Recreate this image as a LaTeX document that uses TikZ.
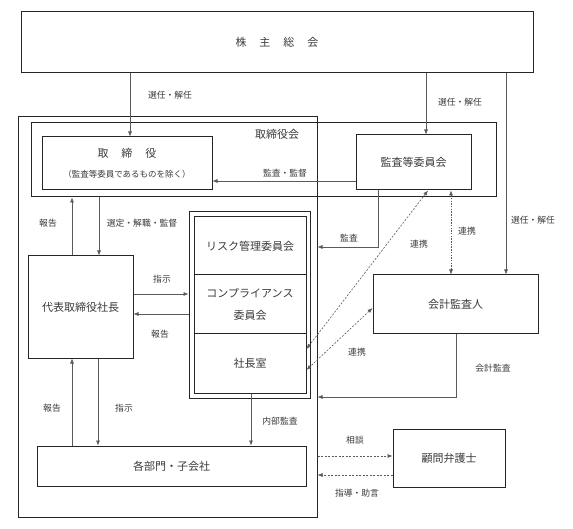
\documentclass[tikz,border=0pt]{standalone}
\usepackage{fontspec}
\setmainfont{Noto Sans CJK JP}
\usepackage{xcolor}
\usetikzlibrary{arrows.meta}

\definecolor{ink}{HTML}{3A3A3A}
\definecolor{edge}{HTML}{262626}
\definecolor{wire}{HTML}{5A5A5A}

\begin{document}
\begin{tikzpicture}[x=1pt, y=-1pt,
        box/.style={draw=edge, line width=1pt, inner sep=0pt, text=ink,
            font=\fontsize{11}{22}\selectfont, align=center},
        txt/.style={text=ink, inner sep=0pt, font=\fontsize{11}{13}\selectfont},
        lbl/.style={text=ink, inner sep=0pt, font=\fontsize{8.8}{10}\selectfont},
        link/.style={draw=wire, line width=0.6pt, -{Latex[length=5pt,width=4pt]}},
        both/.style={link, {Latex[length=5pt,width=4pt]}-{Latex[length=5pt,width=4pt]},
            dash pattern=on 2pt off 1.5pt}]
        \useasboundingbox (0,0) rectangle (573,529);

        % boxes
        \node[box, minimum width=512, minimum height=61] (gm) at (277,42.5)
            {株\hspace{13pt}主\hspace{13pt}総\hspace{13pt}会};
        \node[box, minimum width=299, minimum height=400] (corp) at (167.5,317) {};
        \node[box, minimum width=465, minimum height=74] (torikai) at (263.5,160) {};
        \node[txt] (torikainame) at (277,134) {取締役会};
        \node[box, minimum width=170, minimum height=53] (tori) at (127,163.5) {};
        \node[txt] (toriname) at (127,153) {取\hspace{13pt}締\hspace{13pt}役};
        \node[lbl, font=\fontsize{8.5}{10}\selectfont] (torinote) at (127,174)
            {（監査等委員であるものを除く）};
        \node[box, minimum width=115, minimum height=55] (kansatou) at (413.5,162.5) {監査等委員会};
        \node[box, minimum width=105, minimum height=102] (daihyo) at (80.5,307) {代表取締役社長};
        \node[box, minimum width=121, minimum height=186] (cmt) at (249.5,305) {};
        \node[box, minimum width=112, minimum height=58] (risk) at (250,246) {リスク管理委員会};
        \node[box, minimum width=112, minimum height=59] (comp) at (250,304.5)
            {コンプライアンス\\委員会};
        \node[box, minimum width=112, minimum height=59] (shacho) at (250,363.5) {社長室};
        \node[box, minimum width=165, minimum height=59] (kaikei) at (455.5,304.5) {会計監査人};
        \node[box, minimum width=269, minimum height=40] (bumon) at (171.5,466) {各部門・子会社};
        \node[box, minimum width=112, minimum height=58] (komon) at (449,458) {顧問弁護士};

        % 株主総会
        \draw[link] (gm.south -| 130,0) -- (tori.north -| 130,0);
        \node[lbl] (l1) at (170,95) {選任・解任};
        \draw[link] (gm.south -| 426,0) -- (kansatou.north -| 426,0);
        \node[lbl] (l2) at (460,102) {選任・解任};
        \draw[link] (gm.south -| 506,0) -- (kaikei.north -| 506,0);
        \node[lbl] (l3) at (533,220) {選任・解任};

        % 取締役会 / 代表取締役社長
        \draw[link] (kansatou.west |- 0,181) -- (tori.east |- 0,181);
        \node[lbl] (l4) at (285,173) {監査・監督};
        \draw[link] (daihyo.north -| 72,0) -- (torikai.south -| 72,0);
        \node[lbl] (l5) at (48,223) {報告};
        \draw[link] (torikai.south -| 99,0) -- (daihyo.north -| 99,0);
        \node[lbl] (l6) at (142,223) {選定・解職・監督};
        \draw[link] (daihyo.east |- 0,294) -- (cmt.west |- 0,294);
        \node[lbl] (l7) at (162,279) {指示};
        \draw[link] (cmt.west |- 0,314) -- (daihyo.east |- 0,314);
        \node[lbl] (l8) at (160,334) {報告};

        % 監査
        \draw[link] (kansatou.south -| 378,0) |- (corp.east |- 0,247);
        \node[lbl] (l9) at (349,238) {監査};
        \draw[both] (kansatou.south -| 428,0) -- (shacho.east |- 0,349);
        \node[lbl] (l10) at (419,244) {連携};
        \draw[both, dash pattern=on 1.5pt off 1.2pt] (kansatou.south -| 451,0) -- (kaikei.north -| 451,0);
        \node[lbl] (l11) at (467,231) {連携};
        \draw[both] (kaikei.west |- 0,308) -- (shacho.east |- 0,370);
        \node[lbl] (l12) at (357,352) {連携};
        \draw[link] (kaikei.south -| 456,0) |- (corp.east |- 0,397);
        \node[lbl] (l13) at (493,368) {会計監査};

        % 各部門・子会社
        \draw[link] (bumon.north -| 72,0) -- (daihyo.south -| 72,0);
        \node[lbl] (l14) at (52,408) {報告};
        \draw[link] (daihyo.south -| 98,0) -- (bumon.north -| 98,0);
        \node[lbl] (l15) at (124,408) {指示};
        \draw[link] (shacho.south -| 251,0) -- (bumon.north -| 251,0);
        \node[lbl] (l16) at (280,421) {内部監査};

        % 顧問弁護士
        \draw[link, dash pattern=on 2pt off 1.5pt] (corp.east |- 0,456) -- (komon.west |- 0,456);
        \node[lbl] (l17) at (355,440) {相談};
        \draw[link, dash pattern=on 2pt off 1.5pt] (komon.west |- 0,475) -- (corp.east |- 0,475);
        \node[lbl] (l18) at (357,493) {指導・助言};
\end{tikzpicture}
\end{document}
